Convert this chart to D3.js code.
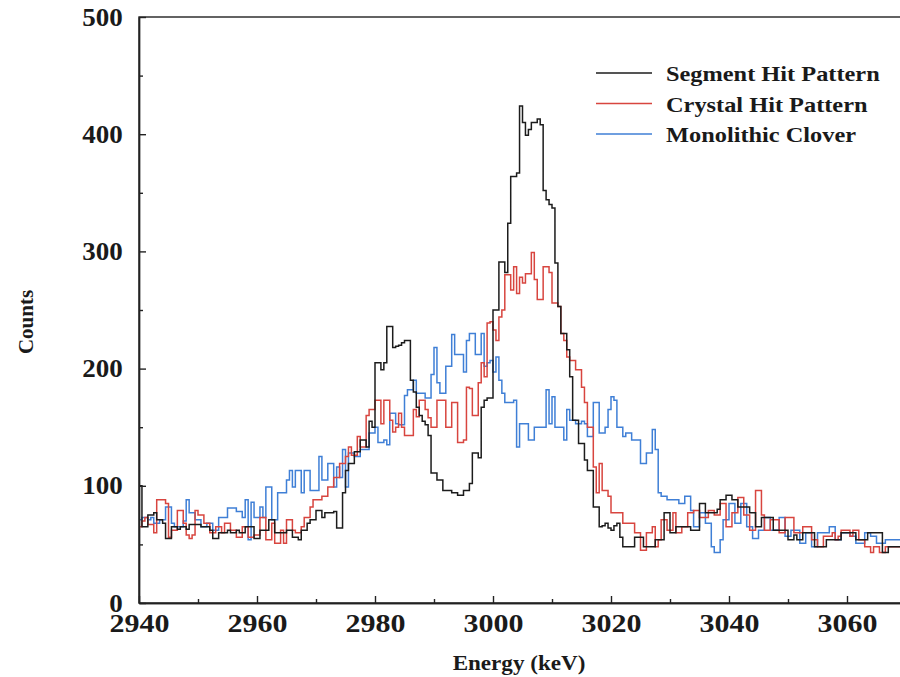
<!DOCTYPE html>
<html>
<head>
  <meta charset="utf-8">
  <title>Energy spectra - hit pattern comparison</title>
  <script src="https://d3js.org/d3.v7.min.js"></script>
  <style>
    body { margin: 0; background: #fff; }
    svg text { font-family: "Liberation Serif", "Times New Roman", serif; font-weight: bold; fill: #1a1a1a; }
    .axis path, .axis line { stroke: #222; stroke-width: 1.4; }
    .trace { fill: none; stroke-width: 1.5; stroke-linejoin: miter; }
  </style>
</head>
<body>
  <svg id="chart" width="900" height="677"></svg>

  <script>
    // histogram binning (keV)
    const binStart = 2940;
    const binWidth = 0.5;

    const seriesNames = ["Segment Hit Pattern", "Crystal Hit Pattern", "Monolithic Clover"];
    const seriesColors = ["#1c1c1c", "#d8453f", "#3f7fd6"];

    const segment = [
      100, 65, 65, 75, 75, 77, 71, 71, 68, 55,
      55, 65, 65, 63, 65, 65, 63, 67, 67, 67,
      67, 65, 65, 65, 62, 55, 55, 60, 60, 60,
      62, 60, 60, 62, 60, 60, 65, 65, 65, 55,
      55, 62, 62, 62, 71, 71, 60, 60, 60, 60,
      62, 62, 56, 56, 54, 62, 62, 68, 71, 71,
      79, 79, 73, 77, 77, 77, 78, 64, 64, 94,
      113, 119, 119, 129, 129, 139, 139, 133, 155, 150,
      205, 205, 199, 205, 236, 236, 218, 219, 220, 222,
      224, 224, 190, 180, 167, 160, 155, 152, 143, 111,
      111, 105, 105, 96, 96, 96, 94, 94, 92, 92,
      96, 96, 102, 128, 128, 124, 167, 173, 175, 175,
      250, 250, 291, 291, 282, 324, 364, 364, 367, 424,
      410, 399, 404, 410, 410, 413, 408, 352, 344, 340,
      337, 290, 253, 230, 230, 216, 193, 156, 156, 136,
      136, 122, 113, 113, 82, 82, 65, 66, 68, 64,
      62, 66, 68, 56, 48, 48, 48, 48, 56, 56,
      56, 48, 48, 48, 48, 54, 54, 54, 77, 77,
      60, 60, 65, 65, 65, 65, 65, 62, 62, 62,
      85, 85, 77, 77, 77, 77, 80, 88, 88, 92,
      92, 88, 88, 82, 82, 82, 82, 77, 77, 65,
      65, 73, 73, 73, 73, 62, 62, 62, 62, 62,
      54, 54, 58, 54, 54, 60, 60, 60, 60, 48,
      48, 48, 48, 54, 54, 54, 54, 54, 60, 60,
      60, 60, 60, 54, 54, 54, 54, 60, 60, 60,
      60, 60, 43, 43, 48, 48, 48, 48, 48, 48
    ];

    const crystal = [
      65, 70, 73, 67, 67, 60, 88, 88, 88, 85,
      56, 62, 62, 79, 79, 68, 58, 55, 58, 79,
      75, 75, 68, 68, 60, 60, 65, 65, 60, 68,
      68, 62, 62, 56, 56, 65, 65, 56, 56, 58,
      58, 73, 73, 54, 54, 68, 51, 51, 62, 51,
      71, 71, 62, 60, 60, 65, 73, 73, 82, 88,
      88, 88, 91, 91, 99, 99, 107, 107, 119, 119,
      125, 133, 126, 126, 142, 133, 133, 160, 165, 165,
      173, 173, 153, 173, 173, 156, 146, 150, 162, 150,
      143, 143, 143, 165, 159, 173, 173, 165, 158, 150,
      150, 173, 173, 173, 150, 150, 171, 171, 137, 137,
      139, 184, 183, 160, 160, 188, 205, 193, 239, 240,
      233, 224, 244, 250, 280, 280, 267, 287, 264, 278,
      273, 281, 281, 299, 276, 259, 259, 287, 287, 282,
      256, 256, 253, 230, 224, 210, 207, 207, 199, 199,
      184, 171, 150, 150, 116, 94, 119, 96, 96, 91,
      77, 77, 77, 77, 68, 68, 68, 68, 60, 60,
      45, 45, 60, 60, 65, 48, 54, 71, 71, 62,
      62, 77, 60, 60, 65, 65, 77, 77, 79, 79,
      73, 73, 73, 79, 79, 75, 75, 85, 85, 65,
      65, 77, 77, 90, 90, 75, 75, 62, 62, 96,
      96, 75, 62, 62, 71, 71, 71, 60, 60, 73,
      73, 73, 60, 60, 60, 65, 65, 65, 54, 54,
      48, 48, 57, 57, 57, 60, 54, 57, 62, 62,
      62, 57, 62, 62, 54, 54, 48, 48, 43, 48,
      48, 43, 43, 48, 48, 48, 48, 48, 48, 48
    ];

    const mono = [
      71, 73, 73, 71, 73, 68, 68, 71, 71, 82,
      82, 68, 65, 65, 65, 70, 88, 77, 77, 71,
      71, 65, 65, 68, 68, 62, 62, 73, 73, 73,
      81, 81, 81, 78, 78, 73, 88, 54, 86, 73,
      73, 82, 73, 99, 99, 71, 71, 94, 94, 94,
      105, 113, 99, 113, 113, 94, 113, 113, 96, 96,
      96, 125, 105, 105, 119, 119, 99, 116, 107, 131,
      99, 128, 128, 125, 125, 131, 131, 131, 145, 145,
      150, 137, 137, 139, 135, 162, 162, 153, 152, 152,
      177, 182, 182, 190, 179, 179, 179, 175, 175, 195,
      218, 188, 179, 179, 202, 202, 229, 212, 212, 212,
      197, 224, 230, 230, 212, 212, 230, 202, 205, 207,
      197, 210, 190, 179, 171, 171, 171, 173, 133, 153,
      153, 153, 139, 139, 150, 150, 150, 150, 182, 153,
      176, 150, 150, 150, 139, 165, 156, 156, 153, 153,
      155, 153, 142, 142, 171, 171, 145, 145, 150, 165,
      176, 173, 150, 150, 142, 145, 145, 139, 139, 139,
      119, 119, 128, 128, 148, 131, 94, 91, 91, 88,
      88, 88, 88, 85, 85, 91, 91, 79, 65, 65,
      77, 77, 68, 68, 48, 43, 43, 54, 71, 71,
      85, 85, 68, 68, 85, 85, 65, 65, 55, 55,
      62, 62, 73, 73, 62, 62, 62, 73, 73, 57,
      57, 62, 62, 62, 51, 51, 60, 60, 48, 48,
      60, 60, 60, 60, 65, 65, 54, 54, 60, 60,
      60, 57, 57, 51, 51, 51, 60, 60, 57, 57,
      51, 51, 51, 54, 54, 54, 54, 54, 54, 54
    ];

    const xMajorTicks = [2940, 2960, 2980, 3000, 3020, 3040, 3060];
    const xMinorTicks = [2950, 2970, 2990, 3010, 3030, 3050, 3070];
    const yMajorTicks = [0, 100, 200, 300, 400, 500];
    const yMinorTicks = [50, 150, 250, 350, 450];

    const svg = d3.select("#chart");
    const margin = { left: 139, top: 17, bottom: 603, right: 906 };

    const x = d3.scaleLinear().domain([2940, 3070]).range([margin.left, margin.right]);
    const y = d3.scaleLinear().domain([0, 500]).range([margin.bottom, margin.top]);

    svg.append("defs").append("clipPath").attr("id", "plotClip")
      .append("rect")
      .attr("x", margin.left).attr("y", margin.top)
      .attr("width", margin.right - margin.left).attr("height", margin.bottom - margin.top);

    // traces (blue, red, then black on top)
    const allSeries = [segment, crystal, mono];
    const drawOrder = [2, 1, 0];
    const line = d3.line()
      .x(d => x(d[0]))
      .y(d => y(d[1]))
      .curve(d3.curveStepAfter);

    const traces = svg.append("g").attr("clip-path", "url(#plotClip)");
    drawOrder.forEach(k => {
      const vals = allSeries[k];
      const pts = vals.map((v, i) => [binStart + i * binWidth, v]);
      pts.push([binStart + vals.length * binWidth, vals[vals.length - 1]]);
      traces.append("path")
        .attr("class", "trace")
        .attr("stroke", seriesColors[k])
        .attr("d", line(pts));
    });

    // frame
    svg.append("rect")
      .attr("x", margin.left).attr("y", margin.top)
      .attr("width", margin.right - margin.left).attr("height", margin.bottom - margin.top)
      .attr("fill", "none").attr("stroke", "#222").attr("stroke-width", 1.4);

    // axes, ticks point inward
    svg.append("g").attr("class", "axis x-major")
      .attr("transform", `translate(0,${margin.bottom})`)
      .call(d3.axisBottom(x).tickValues(xMajorTicks).tickFormat(d3.format("d"))
        .tickSizeInner(-7).tickSizeOuter(0).tickPadding(11));
    svg.append("g").attr("class", "axis")
      .attr("transform", `translate(0,${margin.bottom})`)
      .call(d3.axisBottom(x).tickValues(xMinorTicks).tickFormat("")
        .tickSizeInner(-4).tickSizeOuter(0));

    svg.append("g").attr("class", "axis y-major")
      .attr("transform", `translate(${margin.left},0)`)
      .call(d3.axisLeft(y).tickValues(yMajorTicks)
        .tickSizeInner(-7).tickSizeOuter(0).tickPadding(15));
    svg.append("g").attr("class", "axis")
      .attr("transform", `translate(${margin.left},0)`)
      .call(d3.axisLeft(y).tickValues(yMinorTicks).tickFormat("")
        .tickSizeInner(-4).tickSizeOuter(0));

    svg.selectAll(".axis text").style("font-size", "25px")
      .style("font-family", "'Liberation Serif', serif").style("font-weight", "bold").attr("fill", "#1a1a1a");
    // the original lettering is a bit wider than Liberation Serif
    svg.selectAll(".x-major text").attr("transform", "scale(1.2,1)");
    svg.selectAll(".y-major text").attr("transform", "scale(1.08,1)");

    // axis titles
    svg.append("text")
      .attr("transform", "translate(519,670) scale(1.1,1)")
      .attr("text-anchor", "middle")
      .style("font-size", "21px")
      .text("Energy (keV)");

    svg.append("text")
      .attr("transform", "translate(33,322) rotate(-90)")
      .attr("text-anchor", "middle")
      .style("font-size", "21px")
      .text("Counts");

    // legend
    const legend = svg.append("g");
    seriesNames.forEach((name, k) => {
      const ly = 73 + k * 30.5;
      legend.append("line")
        .attr("x1", 596).attr("x2", 652)
        .attr("y1", ly).attr("y2", ly)
        .attr("stroke", seriesColors[k]).attr("stroke-width", 1.5);
      legend.append("text")
        .attr("transform", `translate(666,${ly + 8}) scale(1.16,1)`)
        .style("font-size", "21px")
        .text(name);
    });
  </script>
</body>
</html>
